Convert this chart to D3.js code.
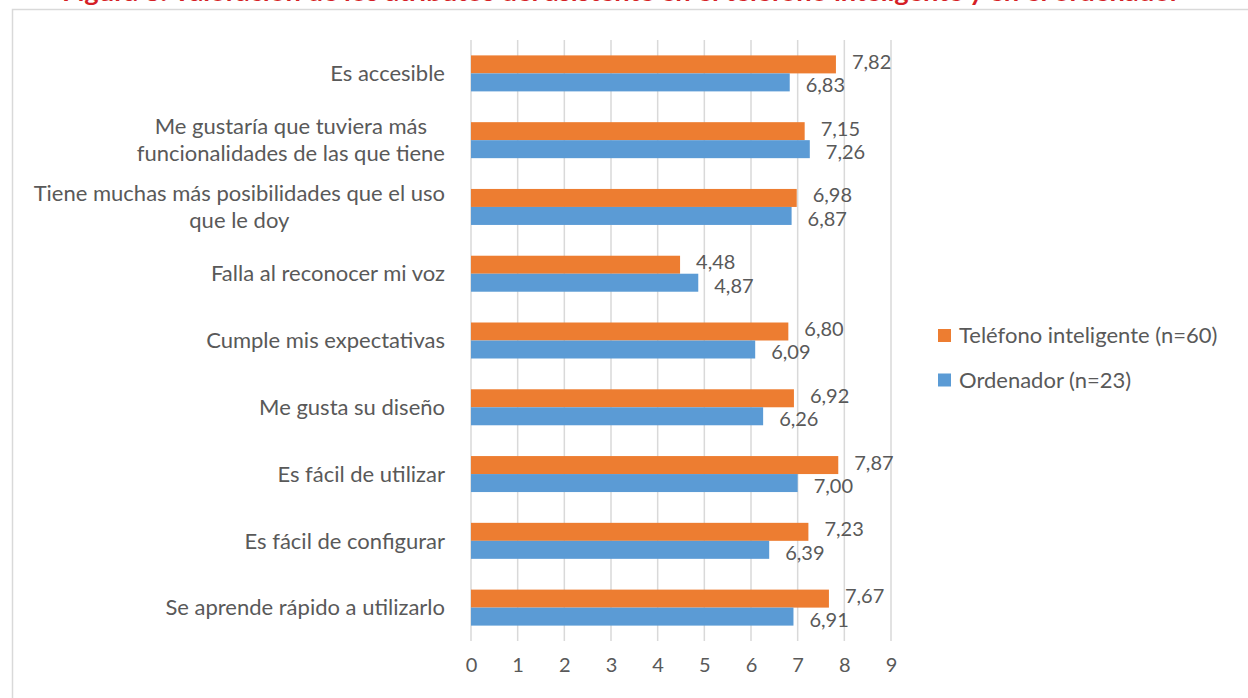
<!DOCTYPE html>
<html>
<head>
<meta charset="utf-8">
<script src="https://cdn.jsdelivr.net/npm/d3@7"></script>
<style>
  body { margin: 0; background: #fff; }
  text { font-family: Lato, "Open Sans", sans-serif; }
</style>
</head>
<body>
<div id="root"></div>
<script>
// chart data
const categories = [
  "Es accesible",
  "Me gustaría que tuviera más|funcionalidades de las que tiene",
  "Tiene muchas más posibilidades que el uso|que le doy",
  "Falla al reconocer mi voz",
  "Cumple mis expectativas",
  "Me gusta su diseño",
  "Es fácil de utilizar",
  "Es fácil de configurar",
  "Se aprende rápido a utilizarlo"
];
const seriesNames = ["Teléfono inteligente (n=60)", "Ordenador (n=23)"];
const telefono = [7.82, 7.15, 6.98, 4.48, 6.80, 6.92, 7.87, 7.23, 7.67];
const ordenador = [6.83, 7.26, 6.87, 4.87, 6.09, 6.26, 7.00, 6.39, 6.91];
const xTicks = [0, 1, 2, 3, 4, 5, 6, 7, 8, 9];
const titleText = "Figura 8. Valoración de los atributos del asistente en el teléfono inteligente y en el ordenador";

const colors = ["#ED7D31", "#5B9BD5"];
const textColor = "#595959";

const width = 1248, height = 698;
const svg = d3.select('#root').append('svg')
  .attr('width', width)
  .attr('height', height);

// chart area border
svg.append('rect')
  .attr('x', 12.5).attr('y', 9.5)
  .attr('width', 1300).attr('height', 800)
  .attr('fill', 'none')
  .attr('stroke', '#d9d9d9')
  .attr('stroke-width', 1.5);

// title, cut at the top edge like the source
svg.append('text')
  .attr('x', 62).attr('y', 1)
  .attr('textLength', 1118)
  .attr('lengthAdjust', 'spacingAndGlyphs')
  .attr('font-size', 24)
  .attr('font-weight', 'bold')
  .attr('fill', '#D51F26')
  .text(titleText);

const x = d3.scaleLinear().domain([0, 9]).range([471, 891]);
const y = d3.scaleBand().domain(d3.range(categories.length)).range([40, 641])
  .paddingInner(0.461).paddingOuter(0.2305);
const ySub = d3.scaleBand().domain([0, 1]).range([0, y.bandwidth()]);

const fmt = d3.formatLocale({decimal: ",", thousands: ".", grouping: [3], currency: ["", "€"]}).format(".2f");

// gridlines
svg.append('g').selectAll('line')
  .data(xTicks)
  .enter().append('line')
  .attr('x1', d => x(d)).attr('x2', d => x(d))
  .attr('y1', 40).attr('y2', 641)
  .attr('stroke', '#d9d9d9')
  .attr('stroke-width', 1.5);

// axis labels
const xAxis = d3.axisBottom(x).tickValues(xTicks).tickSize(0).tickPadding(0);
const ax = svg.append('g').attr('transform', 'translate(0,658)').call(xAxis);
ax.select('.domain').remove();
ax.selectAll('text')
  .attr('font-size', 20)
  .attr('fill', textColor)
  .attr('font-family', 'Lato, "Open Sans", sans-serif')
  .attr('dy', '0.71em');

const series = [telefono, ordenador];
const groups = svg.append('g').selectAll('g')
  .data(categories)
  .enter().append('g')
  .attr('transform', (d, i) => 'translate(0,' + y(i) + ')');

series.forEach(function (vals, s) {
  groups.append('rect')
    .attr('x', x(0))
    .attr('y', ySub(s))
    .attr('height', ySub.bandwidth())
    .attr('width', (d, i) => x(vals[i]) - x(0))
    .attr('fill', colors[s]);

  groups.append('text')
    .attr('x', (d, i) => x(vals[i]) + 16)
    .attr('y', ySub(s) + ySub.bandwidth() / 2 + (s === 0 ? -2.5 : 3))
    .attr('dy', '0.35em')
    .attr('font-size', 20)
    .attr('fill', textColor)
    .text((d, i) => fmt(vals[i]));
});

// category labels, multi-line ones centred on each other
groups.each(function (d, i) {
  const g = d3.select(this);
  const lines = d.split('|');
  const lineH = 27;
  const cy = y.bandwidth() / 2;
  const t = g.append('text')
    .attr('font-size', 22)
    .attr('fill', textColor)
    .attr('text-anchor', 'middle');
  const spans = lines.map((l, k) => t.append('tspan')
    .attr('y', cy + (k - (lines.length - 1) / 2) * lineH)
    .attr('dy', '0.35em')
    .text(l));
  const maxW = d3.max(spans, s => s.node().getComputedTextLength());
  spans.forEach(s => s.attr('x', 445 - maxW / 2));
});

// legend
const legend = svg.append('g').selectAll('g')
  .data(seriesNames)
  .enter().append('g')
  .attr('transform', (d, i) => 'translate(938,' + (329 + i * 44.5) + ')');
legend.append('rect')
  .attr('width', 13).attr('height', 13)
  .attr('fill', (d, i) => colors[i]);
legend.append('text')
  .attr('x', 21).attr('y', 6.5)
  .attr('dy', '0.35em')
  .attr('font-size', 22)
  .attr('fill', textColor)
  .text(d => d);
</script>
</body>
</html>
